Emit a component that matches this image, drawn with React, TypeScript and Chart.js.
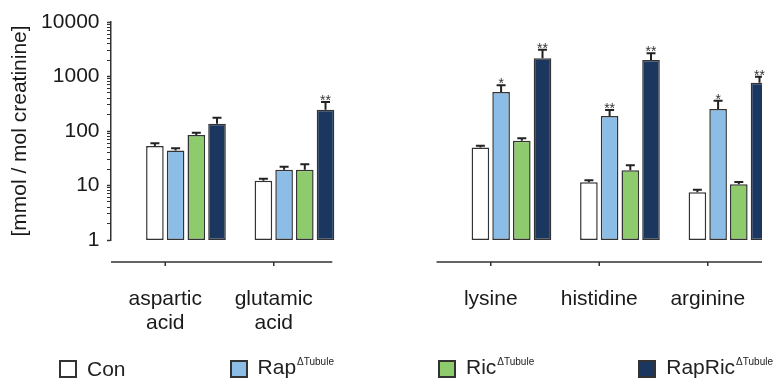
import React, { useEffect, useRef } from 'react';
import { Chart, registerables } from 'chart.js';

Chart.register(...registerables);

const FONT = "'Liberation Sans', Arial, Helvetica, sans-serif";

// categories (the empty one is the gap between the two panels)
const categories: (string | string[])[] = [['aspartic', 'acid'], ['glutamic', 'acid'], '', 'lysine', 'histidine', 'arginine'];
const panels = [[0, 1], [3, 5]];

const seriesNames = ['Con', 'Rap', 'Ric', 'RapRic'];
const seriesSup = ['', 'ΔTubule', 'ΔTubule', 'ΔTubule'];
const seriesColors = ['#ffffff', '#8bbde6', '#8ecb6c', '#1b365f'];

const conValues = [53, 12.2, null, 50, 11.5, 7.5];
const conUpper = [59.5, 13.3, null, 53.7, 12.5, 8.4];
const rapValues = [44, 19.5, null, 520, 188, 253];
const rapUpper = [48, 22.1, null, 690, 243, 360];
const ricValues = [84.5, 19.5, null, 66.4, 19, 10.5];
const ricUpper = [93, 24.5, null, 73.5, 23.5, 11.6];
const rapricValues = [136, 246, null, 2158, 2009, 769];
const rapricUpper = [175, 340, null, 3100, 2666, 991];

const conStars = ['', '', '', '', '', ''];
const rapStars = ['', '', '', '*', '**', '*'];
const ricStars = ['', '', '', '', '', ''];
const rapricStars = ['', '**', '', '**', '**', '**'];

const yTickLabels = [1, 10, 100, 1000, 10000];
const yTitle = '[mmol / mol creatinine]';

const seriesValues = [conValues, rapValues, ricValues, rapricValues];
const seriesUpper = [conUpper, rapUpper, ricUpper, rapricUpper];
const seriesStars = [conStars, rapStars, ricStars, rapricStars];
const PHANTOMS = 2; // empty leading slots so that each tick falls between the 1st and 2nd bar

const minorTicks: number[] = [];
for (let d = 0; d < yTickLabels.length - 1; d++) {
  for (let k = 1; k <= 9; k++) minorTicks.push(k * yTickLabels[d]);
}
minorTicks.push(yTickLabels[yTickLabels.length - 1]);

const errorBarPlugin = {
  id: 'errorBars',
  afterDatasetsDraw(chart: any) {
    const { ctx, chartArea } = chart;
    const y = chart.scales.y;
    ctx.save();
    ctx.beginPath();
    ctx.rect(0, 0, chartArea.right, chart.height);
    ctx.clip();
    ctx.strokeStyle = '#222';
    ctx.lineWidth = 2;
    seriesUpper.forEach((upper, s) => {
      const meta = chart.getDatasetMeta(s + PHANTOMS);
      meta.data.forEach((bar: any, i: number) => {
        const u = upper[i];
        const v = seriesValues[s][i];
        if (u == null || v == null) return;
        const { x, y: top } = bar.getProps(['x', 'y'], true);
        const yu = y.getPixelForValue(u);
        ctx.beginPath();
        ctx.moveTo(x, top);
        ctx.lineTo(x, yu);
        ctx.moveTo(x - 4.5, yu);
        ctx.lineTo(x + 4.5, yu);
        ctx.stroke();
      });
    });
    ctx.restore();
    ctx.save();
    ctx.fillStyle = '#333';
    ctx.font = `14px ${FONT}`;
    ctx.textAlign = 'center';
    ctx.textBaseline = 'alphabetic';
    seriesStars.forEach((stars, s) => {
      const meta = chart.getDatasetMeta(s + PHANTOMS);
      meta.data.forEach((bar: any, i: number) => {
        const st = stars[i];
        const u = seriesUpper[s][i];
        if (!st || u == null) return;
        const { x } = bar.getProps(['x'], true);
        const yu = y.getPixelForValue(u);
        ctx.fillText(st, x, yu + 3);
      });
    });
    ctx.restore();
  },
};

const splitAxisPlugin = {
  id: 'splitAxis',
  afterDraw(chart: any) {
    const { ctx, chartArea } = chart;
    const xs = chart.scales.x;
    const band = xs.getPixelForValue(1) - xs.getPixelForValue(0);
    const y0 = chartArea.bottom + 22;
    const lastMeta = chart.getDatasetMeta(PHANTOMS + seriesValues.length - 1);
    ctx.save();
    ctx.strokeStyle = '#333';
    ctx.lineWidth = 1.5;
    panels.forEach(([a, b]) => {
      const start = xs.getPixelForValue(a) - band / 2;
      const bar = lastMeta.data[b];
      const { x, width } = bar.getProps(['x', 'width'], true);
      const end = Math.min(chartArea.right, x + width / 2 - 2);
      ctx.beginPath();
      ctx.moveTo(start, y0);
      ctx.lineTo(end, y0);
      for (let i = a; i <= b; i++) {
        const p = xs.getPixelForValue(i);
        ctx.moveTo(p, y0);
        ctx.lineTo(p, y0 + 4);
      }
      ctx.stroke();
    });
    ctx.restore();
  },
};

function Legend() {
  return (
    <div
      style={{
        position: 'absolute',
        left: 59,
        top: 357,
        width: 714,
        height: 24,
        display: 'flex',
        justifyContent: 'space-between',
        alignItems: 'center',
        fontFamily: FONT,
        color: '#222',
      }}
    >
      {seriesNames.map((name, i) => (
        <div key={name} style={{ display: 'flex', alignItems: 'center', whiteSpace: 'nowrap' }}>
          <span
            style={{
              display: 'inline-block',
              width: 18,
              height: 18,
              boxSizing: 'border-box',
              border: '2px solid #333',
              background: seriesColors[i],
              marginRight: 10,
            }}
          />
          <span style={{ fontSize: 21, lineHeight: '24px' }}>
            {name}
            {seriesSup[i] ? (
              <span style={{ fontSize: 10, position: 'relative', top: -9, marginLeft: 1 }}>{seriesSup[i]}</span>
            ) : null}
          </span>
        </div>
      ))}
    </div>
  );
}

export default function App() {
  const canvasRef = useRef<HTMLCanvasElement | null>(null);

  useEffect(() => {
    if (!canvasRef.current) return;
    const phantom = Array.from({ length: PHANTOMS }, () => ({
      label: '',
      data: categories.map(() => null),
    }));
    const real = seriesValues.map((vals, s) => ({
      label: seriesNames[s] + seriesSup[s],
      data: vals,
      backgroundColor: seriesColors[s],
      borderColor: '#333',
      borderWidth: 1.5,
      borderSkipped: false,
      clip: { left: 10, top: 10, right: 0, bottom: 10 },
    }));
    const chart = new Chart(canvasRef.current, {
      type: 'bar',
      data: { labels: categories, datasets: [...phantom, ...real] as any },
      plugins: [errorBarPlugin, splitAxisPlugin],
      options: {
        animation: false,
        responsive: true,
        maintainAspectRatio: false,
        layout: { padding: { left: 0, top: 22, right: 15, bottom: 23.5 } },
        datasets: { bar: { categoryPercentage: 1.145, barPercentage: 0.85 } },
        plugins: { legend: { display: false }, tooltip: { enabled: false } },
        scales: {
          x: {
            type: 'category',
            offset: true,
            grid: { display: false, drawTicks: false },
            border: { display: false },
            afterFit: (scale: any) => {
              scale.height = 119.5;
              scale.paddingLeft = 0;
              scale.paddingRight = 0;
            },
            ticks: {
              autoSkip: false,
              maxRotation: 0,
              minRotation: 0,
              padding: 47,
              color: '#1a1a1a',
              font: { family: FONT, size: 21, lineHeight: '24px' },
            },
          },
          y: {
            type: 'logarithmic',
            min: 1,
            max: 10000,
            afterBuildTicks: (scale: any) => {
              scale.ticks = minorTicks.map((v) => ({ value: v, major: yTickLabels.includes(v) }));
            },
            afterFit: (scale: any) => {
              scale.width = 111;
            },
            ticks: {
              autoSkip: false,
              padding: 7.5,
              color: '#1a1a1a',
              font: { family: FONT, size: 21 },
              callback: (v: any) => (yTickLabels.includes(Number(v)) ? String(v) : ''),
            },
            grid: {
              display: true,
              drawOnChartArea: false,
              drawTicks: true,
              tickLength: 4,
              tickColor: '#333',
              tickWidth: (ctx: any) => (ctx.tick && ctx.tick.major ? 1.5 : 1),
            },
            border: { display: true, color: '#333', width: 1.5 },
            title: {
              display: true,
              text: yTitle,
              color: '#1a1a1a',
              font: { family: FONT, size: 21, lineHeight: 1.2 },
              padding: { top: 8, bottom: 0 },
            },
          },
        },
      } as any,
    });
    return () => chart.destroy();
  }, []);

  return (
    <div style={{ position: 'fixed', left: 0, top: 0, width: 777, height: 383, background: '#fff' }}>
      <canvas ref={canvasRef} />
      <Legend />
    </div>
  );
}
